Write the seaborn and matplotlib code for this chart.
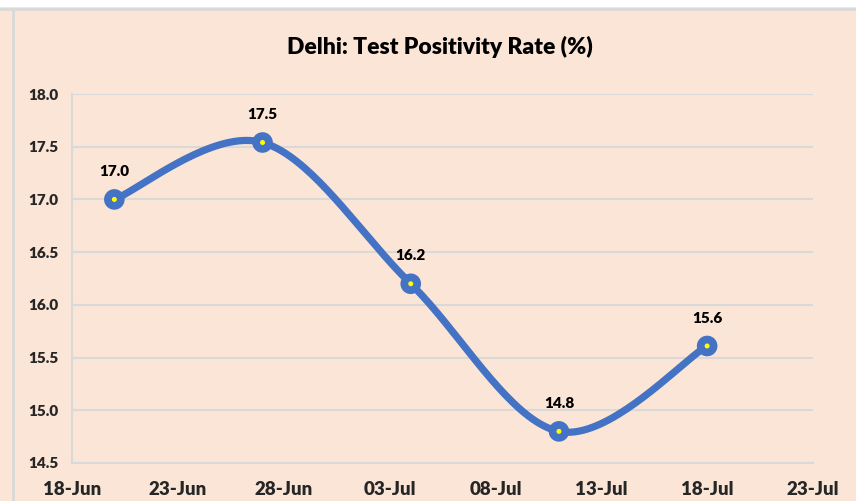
import numpy as np
import pandas as pd
import matplotlib
matplotlib.use("Agg")
import matplotlib.pyplot as plt
import matplotlib.dates as mdates
from matplotlib.lines import Line2D
import seaborn as sns

# ---- data ----
dates = ["2020-06-20", "2020-06-27", "2020-07-04", "2020-07-11", "2020-07-18"]
rates = [17.0, 17.54, 16.2, 14.8, 15.61]
rate_labels = ["17.0", "17.5", "16.2", "14.8", "15.6"]
tick_dates = ["2020-06-18", "2020-06-23", "2020-06-28", "2020-07-03",
              "2020-07-08", "2020-07-13", "2020-07-18", "2020-07-23"]
tick_labels = ["18-Jun", "23-Jun", "28-Jun", "03-Jul", "08-Jul", "13-Jul", "18-Jul", "23-Jul"]
y_ticks = [14.5, 15.0, 15.5, 16.0, 16.5, 17.0, 17.5, 18.0]
title = "Delhi: Test Positivity Rate (%)"

df = pd.DataFrame({"date": pd.to_datetime(dates), "rate": rates})

sns.set_theme(style="white")
plt.rcParams["font.family"] = ["Lato", "DejaVu Sans"]

BG = "#FBE5D6"
BLUE = "#4472C4"
GRID = "#D9D9D9"

fig = plt.figure(figsize=(8.56, 5.01), dpi=100, facecolor=BG)
ax = fig.add_axes([72 / 856, 38 / 501, (813 - 72) / 856, (463 - 94) / 501])
ax.set_facecolor(BG)

# decorations of the chart frame
fig.patches.append(plt.Rectangle((0, 1 - 7 / 501), 1, 7 / 501, transform=fig.transFigure,
                                 facecolor="white", edgecolor="none", zorder=0))
fig.lines.append(Line2D([0, 1], [1 - 8.5 / 501] * 2, transform=fig.transFigure, color=GRID, lw=2))
fig.lines.append(Line2D([12.5 / 856] * 2, [0, 1 - 8.5 / 501], transform=fig.transFigure, color=GRID, lw=2))

# smooth curve (Catmull-Rom / Bezier like Excel smoothed line)
xn = mdates.date2num(df["date"])
yv = np.asarray(rates, dtype=float)
P = np.column_stack([xn, yv])
curve = [P[0]]
t = np.linspace(0, 1, 40)[1:]
for i in range(len(P) - 1):
    p0 = P[i - 1] if i > 0 else P[i]
    p1 = P[i]
    p2 = P[i + 1]
    p3 = P[i + 2] if i + 2 < len(P) else P[i + 1]
    c1 = p1 + (p2 - p0) / 6
    c2 = p2 - (p3 - p1) / 6
    for tt in t:
        pt = ((1 - tt) ** 3) * p1 + 3 * ((1 - tt) ** 2) * tt * c1 + 3 * (1 - tt) * tt ** 2 * c2 + tt ** 3 * p2
        curve.append(pt)
curve = np.array(curve)
ax.plot(mdates.num2date(curve[:, 0]), curve[:, 1], color=BLUE, lw=5.2,
        solid_capstyle="round", zorder=3)

sns.scatterplot(data=df, x="date", y="rate", ax=ax, s=220, color=BLUE,
                edgecolor="none", zorder=4)
sns.scatterplot(data=df, x="date", y="rate", ax=ax, s=13, color="#FFFF00",
                edgecolor="none", zorder=5)

for d, v, lab in zip(df["date"], rates, rate_labels):
    ax.annotate(lab, (d, v), xytext=(0, 20), textcoords="offset points",
                ha="center", va="center", fontsize=11, fontweight="heavy", color="black")

ax.set_xlim(pd.Timestamp(tick_dates[0]), pd.Timestamp(tick_dates[-1]))
ax.set_ylim(14.5, 18.0)
ax.set_xticks(pd.to_datetime(tick_dates))
ax.set_xticklabels(tick_labels, fontsize=13.5, fontweight="heavy")
ax.set_yticks(y_ticks)
ax.set_yticklabels([f"{v:.1f}" for v in y_ticks], fontsize=11, fontweight="heavy")
ax.tick_params(axis="x", length=0, pad=13)
ax.tick_params(axis="y", length=0, pad=10)
ax.set_xlabel("")
ax.set_ylabel("")

ax.grid(axis="y", color=GRID, lw=1.5)
ax.grid(axis="x", visible=False)
for s in ["top", "right"]:
    ax.spines[s].set_visible(False)
for s in ["left", "bottom"]:
    ax.spines[s].set_color(GRID)
    ax.spines[s].set_linewidth(1.5)

fig.text(440 / 856, 1 - 47 / 501, title, ha="center", va="center",
         fontsize=16.5, fontweight="heavy", color="black")

fig.savefig("out.png", dpi=100, facecolor=BG)
